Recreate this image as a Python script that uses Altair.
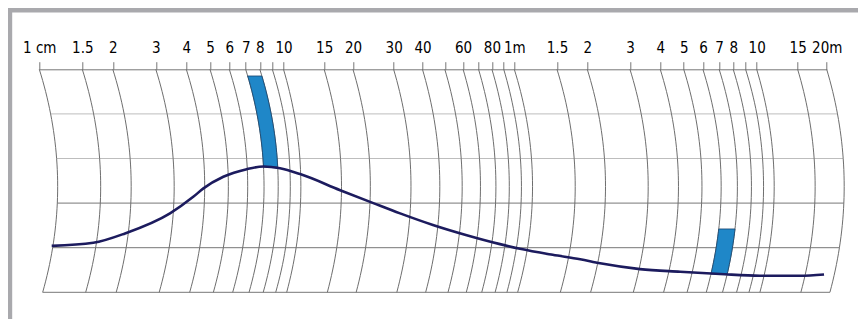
import json
import numpy as np
import pandas as pd
import altair as alt

# ---- data ----
grid_values = [1, 1.5, 2, 3, 4, 5, 6, 7, 8, 9, 10, 15, 20, 30, 40, 50, 60, 70, 80, 90,
               100, 150, 200, 300, 400, 500, 600, 700, 800, 900, 1000, 1500, 2000]
grid_labels = ["1 cm", "1.5", "2", "3", "4", "5", "6", "7", "8", "", "10", "15", "20", "30",
               "40", "", "60", "", "80", "", "1m", "1.5", "2", "3", "4", "5", "6", "7", "8",
               "", "10", "15", "20m"]
row_levels = [0, 1, 2, 3, 4]

curve_cm = [1.124, 1.664, 2.244, 3.43, 4.27, 4.70, 5.67, 7.07, 8.27, 9.68, 11.8, 17.6, 24.5,
            32.0, 44.4, 62.2, 86.7, 105.6, 144, 187, 226, 330, 483, 706, 1033, 1536, 1948]
curve_level = [1.04, 1.11, 1.32, 1.77, 2.14, 2.33, 2.59, 2.76, 2.82, 2.78, 2.65, 2.29, 2.0,
               1.77, 1.51, 1.28, 1.08, 0.975, 0.84, 0.74, 0.65, 0.52, 0.46, 0.41, 0.37, 0.37, 0.40]

bar_left = [7, 600]
bar_right = [8, 700]
bar_bottom = [2.81, 0.41]
bar_top = [4.85, 1.42]

# the printed scale is only roughly logarithmic: each decade has its own length
decade_stops = [1, 10, 100, 1000, 2000]
decade_px = [0, 244.2, 475.0, 717.4, 787.4]

# ---- geometry of the curved (perspective) grid ----
W, H = 787.4, 223.0
TOP_LEVEL = 5.0
PX_PER_DECADE = W / np.log10(2000)


def bend(level):
    t = (TOP_LEVEL - np.asarray(level, dtype=float)) / TOP_LEVEL
    off = 3.3 * t + 65.0 * t * (1 - t)
    return 10 ** (off / PX_PER_DECADE)


steps = np.linspace(0, TOP_LEVEL, 41)
vert = pd.DataFrame([
    {"g": i, "level": lv, "x": v * bend(lv)}
    for i, v in enumerate(grid_values) for lv in steps
])
rows = pd.DataFrame({
    "level": row_levels,
    "x": [grid_values[0] * bend(l) for l in row_levels],
    "x2": [grid_values[-1] * bend(l) for l in row_levels],
})
bars = []
for b in range(len(bar_left)):
    for lv in np.linspace(bar_bottom[b], bar_top[b], 20):
        bars.append({"bar": b, "level": lv,
                     "x": bar_left[b] * bend(lv), "x2": bar_right[b] * bend(lv)})
bars = pd.DataFrame(bars)
curve = pd.DataFrame({"x": curve_cm, "level": curve_level})
axis_pts = pd.DataFrame({"x": [1, 2000], "level": [TOP_LEVEL, TOP_LEVEL]})

xscale = alt.Scale(type="log", domain=decade_stops, range=decade_px, nice=False)
yscale = alt.Scale(domain=[0, TOP_LEVEL], nice=False, zero=False)

label_expr = f"{json.dumps(grid_labels)}[indexof({json.dumps(grid_values)}, datum.value)]"
x_axis = alt.Axis(
    orient="top", values=grid_values, labelExpr=label_expr, title=None, grid=False,
    tickSize=7.6, tickColor="#777777", domainColor="#777777", tickWidth=1, domainWidth=1,
    labelFont="DejaVu Sans Condensed, DejaVu Sans", labelFontSize=15, labelColor="#000000",
    labelBaseline="alphabetic", labelPadding=9.4, labelOverlap=False, labelFlush=False)


def X(field="x"):
    return alt.X(f"{field}:Q", scale=xscale, axis=x_axis, title=None)


Y = alt.Y("level:Q", scale=yscale, axis=None)

axis_layer = alt.Chart(axis_pts).mark_point(opacity=0).encode(x=X(), y=Y)

row_layer = alt.Chart(rows).mark_rule(strokeWidth=1).encode(
    x=X(), x2="x2:Q", y=Y,
    color=alt.condition(alt.datum.level >= 3, alt.value("#bdbdbd"), alt.value("#777777")),
)

vert_layer = alt.Chart(vert).mark_line(strokeWidth=1, color="#6e6e6e").encode(
    x=X(), y=Y, detail="g:N", order="level:Q",
)

bar_layer = alt.Chart(bars).mark_area(
    orient="horizontal", color="#1f87c8", stroke="#16446f", strokeWidth=0.8, opacity=1
).encode(y=Y, x=X(), x2="x2:Q", detail="bar:N")

curve_layer = alt.Chart(curve).mark_line(
    color="#1c1b5e", strokeWidth=2.6, interpolate="monotone"
).encode(x=X(), y=Y)

frame_top = alt.Chart(pd.DataFrame({"a": [0]})).mark_rule(
    color="#a9a9ad", strokeWidth=5, strokeCap="butt"
).encode(x=alt.value(-32.3), x2=alt.value(830), y=alt.value(-59.3))
frame_left = alt.Chart(pd.DataFrame({"a": [0]})).mark_rule(
    color="#a9a9ad", strokeWidth=5, strokeCap="butt"
).encode(x=alt.value(-29.6), y=alt.value(-61.8), y2=alt.value(260))

chart = alt.layer(
    axis_layer, frame_top, frame_left, row_layer, vert_layer, bar_layer, curve_layer
).properties(
    width=W, height=H, autosize="none",
    padding={"left": 31.3, "top": 61.3, "right": 31.3, "bottom": 26.7},
    background="#ffffff",
).configure_view(stroke=None)

chart.save("out.html", embed_options={"renderer": "svg", "actions": False})
